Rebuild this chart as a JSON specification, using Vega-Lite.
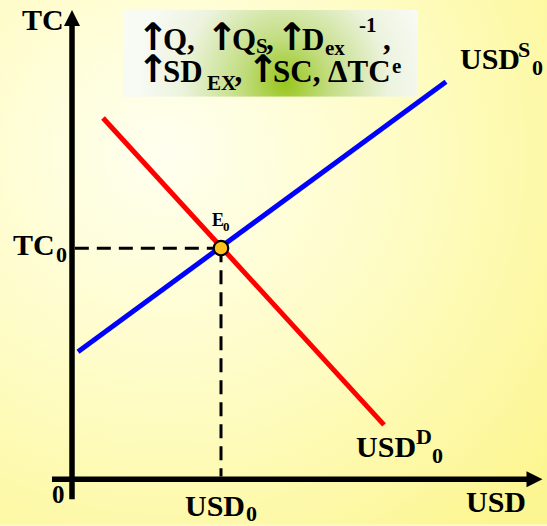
{
  "$schema": "https://vega.github.io/schema/vega-lite/v6.json",
  "width": 547,
  "height": 526,
  "autosize": {"type": "fit", "contains": "padding"},
  "padding": 0,
  "background": "#fdf9c0",
  "config": {"view": {"stroke": null}},
  "datasets": {
    "bg": [{"x": -15.32, "x2": 101.06, "y": -9.57, "y2": 102.34}],
    "box": [{"x": 10.85, "x2": 73.62, "y": 100.21, "y2": 81.70}],
    "lines": [
      {"n": "axis", "x": 0, "y": -4.26, "x2": 0, "y2": 96.81},
      {"n": "axis", "x": -4.26, "y": 0, "x2": 96.81, "y2": 0},
      {"n": "S", "x": 1.277, "y": 27.23, "x2": 79.57, "y2": 84.89},
      {"n": "D", "x": 6.60, "y": 77.13, "x2": 66.38, "y2": 11.60},
      {"n": "dash", "x": 0.6, "y": 49.33, "x2": 31.7, "y2": 49.33},
      {"n": "dash", "x": 31.7, "y": 49.33, "x2": 31.7, "y2": 0.6}
    ],
    "arrows": [
      {"n": "up", "x": 0, "y": 98.51},
      {"n": "right", "x": 98.40, "y": 0}
    ],
    "eq": [{"x": 31.7, "y": 49.33}],
    "texts": [
      {"t": "TC", "x": -10.64, "y": 95.96, "k": "m"},
      {"t": "TC", "x": -12.55, "y": 47.87, "k": "m"},
      {"t": "USD", "x": 83.83, "y": -7.02, "k": "m"},
      {"t": "USD", "x": 24.04, "y": -7.87, "k": "m"},
      {"t": "USD", "x": 82.55, "y": 87.66, "k": "m"},
      {"t": "USD", "x": 60.43, "y": 4.68, "k": "m"},
      {"t": "↑", "x": 17.23, "y": 91.70, "k": "a"},
      {"t": "↑", "x": 31.91, "y": 91.70, "k": "a"},
      {"t": "↑", "x": 46.81, "y": 91.70, "k": "a"},
      {"t": "↑", "x": 17.23, "y": 84.89, "k": "a"},
      {"t": "↑", "x": 40.64, "y": 84.89, "k": "a"},
      {"t": "Q,", "x": 19.36, "y": 91.70, "k": "q"},
      {"t": "Q", "x": 34.04, "y": 91.70, "k": "q"},
      {"t": ",", "x": 41.30, "y": 91.70, "k": "q"},
      {"t": "D", "x": 48.94, "y": 91.70, "k": "q"},
      {"t": ",", "x": 66.17, "y": 91.70, "k": "q"},
      {"t": "SD", "x": 19.36, "y": 84.89, "k": "q"},
      {"t": ",", "x": 34.57, "y": 84.89, "k": "q"},
      {"t": "SC,", "x": 42.77, "y": 84.89, "k": "q"},
      {"t": "ΔTC", "x": 54.47, "y": 84.89, "k": "q"},
      {"t": "0", "x": -3.40, "y": 46.38, "k": "s"},
      {"t": "0", "x": 37.02, "y": -8.94, "k": "s"},
      {"t": "S", "x": 94.89, "y": 90.21, "k": "s"},
      {"t": "0", "x": 97.87, "y": 86.38, "k": "s"},
      {"t": "D", "x": 73.19, "y": 7.45, "k": "s"},
      {"t": "0", "x": 76.60, "y": 3.40, "k": "s"},
      {"t": "S", "x": 39.15, "y": 91.06, "k": "b"},
      {"t": "ex", "x": 53.83, "y": 90.64, "k": "b"},
      {"t": "-1", "x": 61.06, "y": 95.53, "k": "b"},
      {"t": "EX", "x": 28.72, "y": 83.19, "k": "b"},
      {"t": "e", "x": 68.09, "y": 86.81, "k": "b"},
      {"t": "0", "x": -4.26, "y": -5.11, "k": "o"},
      {"t": "E", "x": 29.79, "y": 54.04, "k": "e"},
      {"t": "0", "x": 32.15, "y": 52.98, "k": "e0"}
    ]
  },
  "encoding": {
    "x": {"field": "x", "type": "quantitative", "scale": {"domain": [-15.32, 101.06], "nice": false, "zero": false}, "axis": null},
    "y": {"field": "y", "type": "quantitative", "scale": {"domain": [-9.57, 102.34], "nice": false, "zero": false}, "axis": null}
  },
  "layer": [
    {
      "data": {"name": "bg"},
      "mark": {"type": "rect", "fill": {"gradient": "radial", "x1": 0.3, "y1": 0.3, "r1": 0, "x2": 0.3, "y2": 0.3, "r2": 0.9, "stops": [{"offset": 0, "color": "#fffff0"}, {"offset": 0.5, "color": "#fefcc4"}, {"offset": 1, "color": "#fcf692"}]}},
      "encoding": {"x2": {"field": "x2"}, "y2": {"field": "y2"}}
    },
    {
      "data": {"name": "box"},
      "mark": {"type": "rect", "fill": {"gradient": "radial", "x1": 0.55, "y1": 0.6, "r1": 0, "x2": 0.55, "y2": 0.6, "r2": 0.5, "stops": [{"offset": 0, "color": "#98c61c"}, {"offset": 0.3, "color": "#c2dd80"}, {"offset": 0.7, "color": "#ecf3de"}, {"offset": 1, "color": "#f8faf4"}]}},
      "encoding": {"x2": {"field": "x2"}, "y2": {"field": "y2"}}
    },
    {
      "data": {"name": "lines"},
      "transform": [{"filter": "datum.n === 'dash'"}],
      "mark": {"type": "rule", "color": "#000000", "strokeWidth": 3, "strokeDash": [14, 8]},
      "encoding": {"x2": {"field": "x2"}, "y2": {"field": "y2"}}
    },
    {
      "data": {"name": "lines"},
      "transform": [{"filter": "datum.n === 'axis'"}],
      "mark": {"type": "rule", "color": "#000000", "strokeWidth": 5.5},
      "encoding": {"x2": {"field": "x2"}, "y2": {"field": "y2"}}
    },
    {
      "data": {"name": "arrows"},
      "transform": [{"filter": "datum.n === 'up'"}],
      "mark": {"type": "point", "shape": "M0,-1L1,1L-1,1Z", "size": 256, "filled": true, "color": "#000000", "opacity": 1}
    },
    {
      "data": {"name": "arrows"},
      "transform": [{"filter": "datum.n === 'right'"}],
      "mark": {"type": "point", "shape": "M-1,-1L1,0L-1,1Z", "size": 256, "filled": true, "color": "#000000", "opacity": 1}
    },
    {
      "data": {"name": "lines"},
      "transform": [{"filter": "datum.n === 'S'"}],
      "mark": {"type": "rule", "color": "#0000ff", "strokeWidth": 5, "strokeCap": "butt"},
      "encoding": {"x2": {"field": "x2"}, "y2": {"field": "y2"}}
    },
    {
      "data": {"name": "lines"},
      "transform": [{"filter": "datum.n === 'D'"}],
      "mark": {"type": "rule", "color": "#ff0000", "strokeWidth": 5, "strokeCap": "butt"},
      "encoding": {"x2": {"field": "x2"}, "y2": {"field": "y2"}}
    },
    {
      "data": {"name": "eq"},
      "mark": {"type": "point", "shape": "circle", "size": 210, "filled": true, "fill": "#ffc21c", "stroke": "#000000", "strokeWidth": 2.2, "opacity": 1}
    },
    {
      "data": {"name": "texts"},
      "transform": [{"filter": "datum.k === 'm'"}],
      "mark": {"type": "text", "align": "left", "baseline": "alphabetic", "font": "Liberation Serif", "fontWeight": "bold", "fontSize": 30, "color": "#000000"},
      "encoding": {"text": {"field": "t"}}
    },
    {
      "data": {"name": "texts"},
      "transform": [{"filter": "datum.k === 'q'"}],
      "mark": {"type": "text", "align": "left", "baseline": "alphabetic", "font": "Liberation Serif", "fontWeight": "bold", "fontSize": 31, "color": "#000000"},
      "encoding": {"text": {"field": "t"}}
    },
    {
      "data": {"name": "texts"},
      "transform": [{"filter": "datum.k === 'a'"}],
      "mark": {"type": "text", "align": "center", "baseline": "alphabetic", "font": "DejaVu Sans", "fontWeight": "bold", "fontSize": 38, "color": "#000000"},
      "encoding": {"text": {"field": "t"}}
    },
    {
      "data": {"name": "texts"},
      "transform": [{"filter": "datum.k === 's'"}],
      "mark": {"type": "text", "align": "left", "baseline": "alphabetic", "font": "Liberation Serif", "fontWeight": "bold", "fontSize": 22, "color": "#000000"},
      "encoding": {"text": {"field": "t"}}
    },
    {
      "data": {"name": "texts"},
      "transform": [{"filter": "datum.k === 'b'"}],
      "mark": {"type": "text", "align": "left", "baseline": "alphabetic", "font": "Liberation Serif", "fontWeight": "bold", "fontSize": 21, "color": "#000000"},
      "encoding": {"text": {"field": "t"}}
    },
    {
      "data": {"name": "texts"},
      "transform": [{"filter": "datum.k === 'o'"}],
      "mark": {"type": "text", "align": "left", "baseline": "alphabetic", "font": "Liberation Serif", "fontWeight": "bold", "fontSize": 25, "color": "#000000"},
      "encoding": {"text": {"field": "t"}}
    },
    {
      "data": {"name": "texts"},
      "transform": [{"filter": "datum.k === 'e'"}],
      "mark": {"type": "text", "align": "left", "baseline": "alphabetic", "font": "Liberation Serif", "fontWeight": "bold", "fontSize": 18, "color": "#000000"},
      "encoding": {"text": {"field": "t"}}
    },
    {
      "data": {"name": "texts"},
      "transform": [{"filter": "datum.k === 'e0'"}],
      "mark": {"type": "text", "align": "left", "baseline": "alphabetic", "font": "Liberation Serif", "fontWeight": "bold", "fontSize": 13, "color": "#000000"},
      "encoding": {"text": {"field": "t"}}
    }
  ]
}
